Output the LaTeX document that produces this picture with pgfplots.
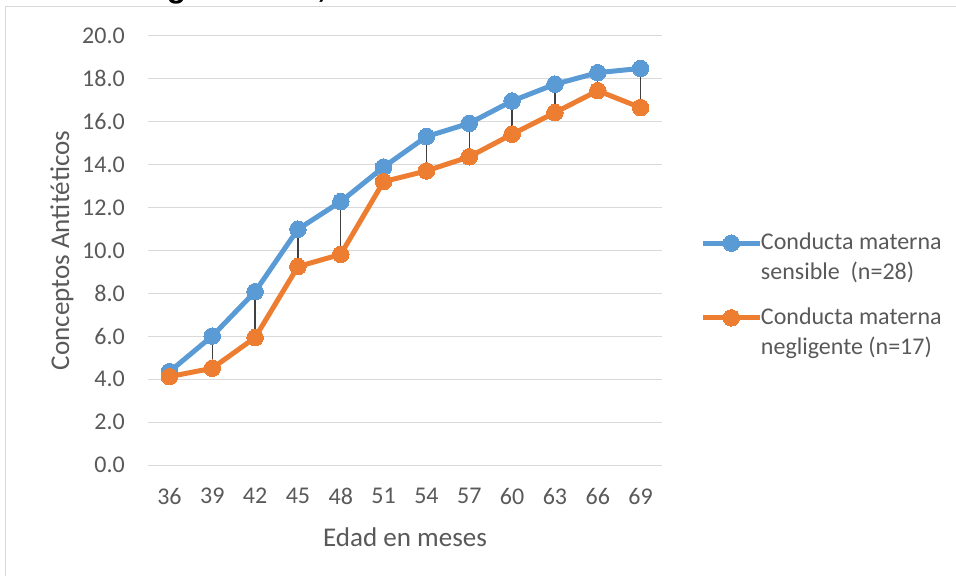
\documentclass[border=0pt]{standalone}
\usepackage{fontspec}
\setmainfont{Carlito}
\newfontfamily\titlefont{Liberation Sans}
\usepackage{pgfplots}
\usepackage{pgfplotstable}
\pgfplotsset{compat=1.18}
\definecolor{cblue}{HTML}{5B9BD5}
\definecolor{corange}{HTML}{ED7D31}
\definecolor{txt}{HTML}{595959}
\definecolor{gridc}{HTML}{D9D9D9}
\definecolor{hl}{HTML}{404040}
\pgfplotstableread{
x b o
0 4.35 4.12
1 6.01 4.51
2 8.08 5.94
3 10.99 9.25
4 12.28 9.82
5 13.89 13.21
6 15.31 13.71
7 15.93 14.37
8 16.97 15.42
9 17.75 16.43
10 18.29 17.45
11 18.49 16.66
}\data
\begin{document}
\begin{tikzpicture}
\useasboundingbox (0,0) rectangle (717pt,431.25pt);
\clip (0,0) rectangle (717pt,431.25pt);
\draw[gridc, line width=0.75pt] (3.75pt,-10pt) -- (3.75pt,426pt) -- (730pt,426pt);
\node[anchor=base, inner sep=0pt, font=\titlefont\bfseries\fontsize{23.6}{28}\selectfont] at (363.75pt,433pt) {Seguimiento, en relación a la conducta materna};
\begin{axis}[
  at={(111pt,82.5pt)}, anchor=south west,
  scale only axis, width=385.5pt, height=321.75pt,
  xmin=-0.5, xmax=11.5, ymin=0, ymax=20,
  xtick={0,...,11},
  xticklabels={36,39,42,45,48,51,54,57,60,63,66,69},
  ytick={0,2,...,20},
  yticklabel style={/pgf/number format/fixed, /pgf/number format/fixed zerofill, /pgf/number format/precision=1},
  /pgf/number format/assume math mode=true,
  ymajorgrids, grid style={gridc, line width=0.75pt},
  axis line style={draw=none},
  major tick length=0pt,
  tick label style={font=\fontsize{18}{21.6}\selectfont, text=txt, inner sep=0pt},
  xticklabel style={anchor=center, yshift=-23.25pt},
  yticklabel style={anchor=east, xshift=-17.25pt},
  label style={font=\fontsize{20.3}{24}\selectfont, text=txt},
  xlabel={Edad en meses},
  ylabel={Conceptos Antitéticos},
  xlabel style={at={(axis description cs:0.5,-0.1678)}, anchor=center},
  ylabel style={at={(axis description cs:-0.1673,0.5)}, anchor=center},
  legend style={draw=none, fill=none, at={(axis description cs:1.074,0.548)}, anchor=north west,
    font=\fontsize{18}{22.5}\selectfont, text=txt,
    cells={anchor=west, align=left, inner sep=1.1pt}, row sep=15.5pt, inner sep=0pt,
    /tikz/every odd column/.append style={column sep=-3pt}},
  legend image code/.code={\draw[mark repeat=2, mark phase=2, #1] plot coordinates {(0pt,10.5pt) (21.4pt,10.5pt) (42.75pt,10.5pt)};},
]
\addplot[cblue, line width=3.75pt, mark=*, mark size=6.2pt, mark options={fill=cblue, draw=cblue, line width=0pt}] table[x=x, y=b] {\data};
\addlegendentry{Conducta materna\\sensible\ \ (n=28)}
\addplot[corange, line width=3.75pt, mark=*, mark size=6.2pt, mark options={fill=corange, draw=corange, line width=0pt}] table[x=x, y=o] {\data};
\addlegendentry{Conducta materna\\negligente (n=17)}
\addplot[draw=none, forget plot, error bars/.cd, y dir=plus, y explicit, error mark=none, error bar style={hl, line width=1.1pt}] table[x=x, y=o, y error expr=\thisrow{b}-\thisrow{o}] {\data};
\end{axis}
\end{tikzpicture}
\end{document}
